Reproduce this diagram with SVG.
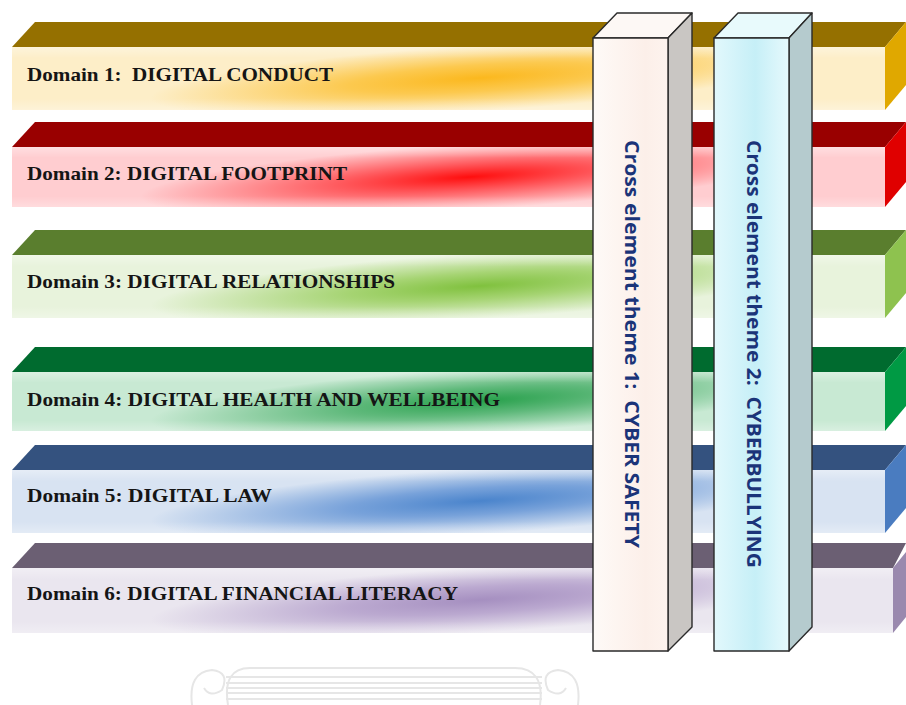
<svg xmlns="http://www.w3.org/2000/svg" width="906" height="705" viewBox="0 0 906 705">
<defs>
<style>
.dt{font-family:"Liberation Serif","Times New Roman",serif;font-weight:bold;font-size:19.5px;fill:#151515}
.pt{font-family:"Open Sans","Liberation Sans",sans-serif;font-weight:bold;font-size:19px;fill:#1B3479}
.ps{stroke:#2a2a2a;stroke-width:1.4;stroke-linejoin:round}
.wm{fill:none;stroke:#E6E6E6;stroke-width:2}
</style>
<radialGradient id="g1" gradientUnits="userSpaceOnUse" cx="480" cy="78" r="330" gradientTransform="translate(480 78) rotate(-3.5) scale(1 0.1) translate(-480 -78)"><stop offset="0" stop-color="#FBB81E"/><stop offset="0.4" stop-color="#FCC94F"/><stop offset="1" stop-color="#FDEEC8"/></radialGradient>
<radialGradient id="g2" gradientUnits="userSpaceOnUse" cx="470" cy="177" r="330" gradientTransform="translate(470 177) rotate(-3.5) scale(1 0.1) translate(-470 -177)"><stop offset="0" stop-color="#FF0E0E"/><stop offset="0.4" stop-color="#FF5A5E"/><stop offset="1" stop-color="#FFCDD0"/></radialGradient>
<radialGradient id="g3" gradientUnits="userSpaceOnUse" cx="480" cy="286" r="330" gradientTransform="translate(480 286) rotate(-3.5) scale(1 0.1) translate(-480 -286)"><stop offset="0" stop-color="#80C13E"/><stop offset="0.4" stop-color="#A6D473"/><stop offset="1" stop-color="#E8F3DC"/></radialGradient>
<radialGradient id="g4" gradientUnits="userSpaceOnUse" cx="480" cy="401" r="330" gradientTransform="translate(480 401) rotate(-3.5) scale(1 0.1) translate(-480 -401)"><stop offset="0" stop-color="#27A04B"/><stop offset="0.4" stop-color="#5FB97B"/><stop offset="1" stop-color="#C8E9D3"/></radialGradient>
<radialGradient id="g5" gradientUnits="userSpaceOnUse" cx="480" cy="501" r="330" gradientTransform="translate(480 501) rotate(-3.5) scale(1 0.1) translate(-480 -501)"><stop offset="0" stop-color="#4A84CC"/><stop offset="0.4" stop-color="#78A2DA"/><stop offset="1" stop-color="#D8E3F2"/></radialGradient>
<radialGradient id="g6" gradientUnits="userSpaceOnUse" cx="480" cy="600" r="330" gradientTransform="translate(480 600) rotate(-3.5) scale(1 0.1) translate(-480 -600)"><stop offset="0" stop-color="#A58FC0"/><stop offset="0.4" stop-color="#BBA9D0"/><stop offset="1" stop-color="#EAE6EF"/></radialGradient>
<linearGradient id="sheen" x1="0" y1="0" x2="0" y2="1"><stop offset="0" stop-color="#fff" stop-opacity="0.35"/><stop offset="0.18" stop-color="#fff" stop-opacity="0"/><stop offset="0.82" stop-color="#fff" stop-opacity="0"/><stop offset="1" stop-color="#fff" stop-opacity="0.3"/></linearGradient>
<linearGradient id="p1" x1="0" y1="0" x2="1" y2="0"><stop offset="0" stop-color="#FEFAF7"/><stop offset="0.7" stop-color="#FCEFE9"/><stop offset="1" stop-color="#FDF3EE"/></linearGradient>
<linearGradient id="p2" x1="0" y1="0" x2="1" y2="0"><stop offset="0" stop-color="#E2F8FC"/><stop offset="0.55" stop-color="#C6EFF7"/><stop offset="1" stop-color="#E6F9FC"/></linearGradient>
</defs>

<g id="domain1">
<polygon points="12,47 35,22 906,22 885,47" fill="#957000"/>
<rect x="12" y="47" width="873" height="63" fill="url(#g1)"/>
<rect x="12" y="47" width="873" height="63" fill="url(#sheen)"/>
<polygon points="885,47 906,22 906,85 885,110" fill="#E0A800"/>
<text class="dt" x="27" y="81" textLength="306" lengthAdjust="spacingAndGlyphs">Domain 1:&#160; DIGITAL CONDUCT</text>
</g>

<g id="domain2">
<polygon points="12,147 35,122 906,122 885,147" fill="#990000"/>
<rect x="12" y="147" width="873" height="60" fill="url(#g2)"/>
<rect x="12" y="147" width="873" height="60" fill="url(#sheen)"/>
<polygon points="885,147 906,122 906,182 885,207" fill="#E00000"/>
<text class="dt" x="27" y="180" textLength="320" lengthAdjust="spacingAndGlyphs">Domain 2: DIGITAL FOOTPRINT</text>
</g>

<g id="domain3">
<polygon points="12,255 35,230 906,230 885,255" fill="#5A7E2E"/>
<rect x="12" y="255" width="873" height="63" fill="url(#g3)"/>
<rect x="12" y="255" width="873" height="63" fill="url(#sheen)"/>
<polygon points="885,255 906,230 906,293 885,318" fill="#8EC24F"/>
<text class="dt" x="27" y="288" textLength="368" lengthAdjust="spacingAndGlyphs">Domain 3: DIGITAL RELATIONSHIPS</text>
</g>

<g id="domain4">
<polygon points="12,372 35,347 906,347 885,372" fill="#006B2F"/>
<rect x="12" y="372" width="873" height="59" fill="url(#g4)"/>
<rect x="12" y="372" width="873" height="59" fill="url(#sheen)"/>
<polygon points="885,372 906,347 906,406 885,431" fill="#009A44"/>
<text class="dt" x="27" y="406" textLength="473" lengthAdjust="spacingAndGlyphs">Domain 4: DIGITAL HEALTH AND WELLBEING</text>
</g>

<g id="domain5">
<polygon points="12,470 35,445 906,445 885,470" fill="#34527F"/>
<rect x="12" y="470" width="873" height="63" fill="url(#g5)"/>
<rect x="12" y="470" width="873" height="63" fill="url(#sheen)"/>
<polygon points="885,470 906,445 906,508 885,533" fill="#4A7CC0"/>
<text class="dt" x="27" y="502" textLength="245" lengthAdjust="spacingAndGlyphs">Domain 5: DIGITAL LAW</text>
</g>

<g id="domain6">
<polygon points="12,568 35,543 906,543 893,568" fill="#6B5F73"/>
<rect x="12" y="568" width="881" height="65" fill="url(#g6)"/>
<rect x="12" y="568" width="881" height="65" fill="url(#sheen)"/>
<polygon points="893,568 906,552 906,617 893,633" fill="#9A89AE"/>
<text class="dt" x="27" y="600" textLength="431" lengthAdjust="spacingAndGlyphs">Domain 6: DIGITAL FINANCIAL LITERACY</text>
</g>

<g id="theme1">
<polygon class="ps" points="593,38 617,13 692,13 668,38" fill="#FDF8F5"/>
<polygon class="ps" points="668,38 692,13 692,627 668,651" fill="#C9C6C3"/>
<rect class="ps" x="593" y="38" width="75" height="613" fill="url(#p1)"/>
<text class="pt" x="632" y="344" text-anchor="middle" dominant-baseline="central" transform="rotate(90 632 344)" textLength="408" lengthAdjust="spacingAndGlyphs">Cross element theme 1:&#160; CYBER SAFETY</text>
</g>

<g id="theme2">
<polygon class="ps" points="714,38 738,13 812,13 789,38" fill="#E8FAFC"/>
<polygon class="ps" points="789,38 812,13 812,627 789,651" fill="#B5CBCE"/>
<rect class="ps" x="714" y="38" width="75" height="613" fill="url(#p2)"/>
<text class="pt" x="754" y="354" text-anchor="middle" dominant-baseline="central" transform="rotate(90 754 354)" textLength="428" lengthAdjust="spacingAndGlyphs">Cross element theme 2:&#160; CYBERBULLYING</text>
</g>

<g id="watermark">
<path class="wm" d="M228,705 Q222,668 250,668 L515,668 Q545,668 540,705"/>
<line class="wm" x1="226" y1="677" x2="542" y2="677"/>
<line class="wm" x1="226" y1="683" x2="542" y2="683"/>
<line class="wm" x1="226" y1="688" x2="542" y2="688"/>
<line class="wm" x1="226" y1="693" x2="542" y2="693"/>
<line class="wm" x1="226" y1="699" x2="542" y2="699"/>
<path class="wm" d="M192,705 Q188,672 212,670 Q230,672 222,690 Q210,698 204,688"/>
<path class="wm" d="M578,705 Q582,672 558,670 Q540,672 548,690 Q560,698 566,688"/>
</g>
</svg>
